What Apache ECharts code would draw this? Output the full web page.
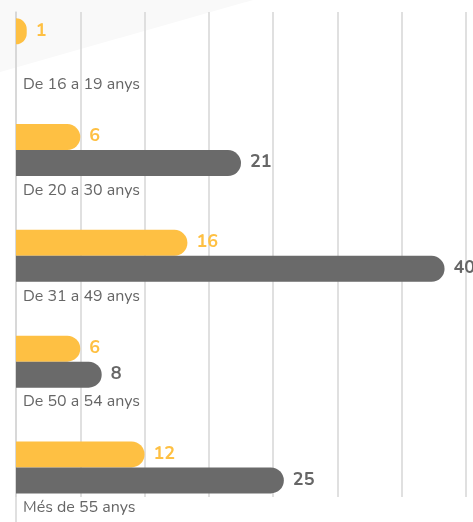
<!DOCTYPE html>
<html>
<head>
<meta charset="utf-8">
<script src="https://cdn.jsdelivr.net/npm/echarts@6/dist/echarts.min.js"></script>
<style>
html,body{margin:0;padding:0;background:#fff;}
#c{width:473px;height:522px;}
</style>
</head>
<body>
<div id="c"></div>
<script>
const categories = ['De 16 a 19 anys', 'De 20 a 30 anys', 'De 31 a 49 anys', 'De 50 a 54 anys', 'Més de 55 anys'];
const yellowValues = [1, 6, 16, 6, 12];
const greyValues = ['-', 21, 40, 8, 25];
const axisMin = 0, axisMax = 42, axisInterval = 6;

const FONT = 'Nunito, Lato, "Open Sans", sans-serif';
const L = 16, R = 7;
const chart = echarts.init(document.getElementById('c'), null, {renderer: 'canvas'});
chart.setOption({
  animation: false,
  backgroundColor: '#ffffff',
  graphic: [{
    type: 'polygon', z: -10, silent: true,
    shape: {points: [[0, 0], [253, 0], [0, 72]]},
    style: {fill: '#f9f9f9'}
  }],
  grid: [
    {left: L, right: R, top: 12, height: 485},
    {left: L, right: R, top: 12, bottom: 0},
    {left: L, right: R, top: 44.3, height: 425}
  ],
  xAxis: [
    {gridIndex: 0, type: 'value', min: axisMin, max: axisMax, interval: axisInterval,
     axisLabel: {show: false}, axisLine: {show: false}, axisTick: {show: false},
     splitLine: {show: true, lineStyle: {color: '#d6d6d6', width: 1.5}}},
    {gridIndex: 1, type: 'value', min: axisMin, max: axisMax, show: false},
    {gridIndex: 2, type: 'value', min: axisMin, max: axisMax, show: false}
  ],
  yAxis: [
    {gridIndex: 0, type: 'category', data: categories, show: false},
    {gridIndex: 1, type: 'category', data: categories, inverse: true,
     axisLine: {show: true, lineStyle: {color: '#d6d6d6', width: 1.5}},
     axisTick: {show: false}, axisLabel: {show: false}, splitLine: {show: false}},
    {gridIndex: 2, type: 'category', data: categories, inverse: true, boundaryGap: false,
     axisLine: {show: false}, axisTick: {show: false}, splitLine: {show: false},
     axisLabel: {show: true, inside: true, margin: 7, color: '#666666',
       fontFamily: FONT, fontSize: 16, verticalAlign: 'top', lineHeight: 27.3,
       formatter: v => '\n' + v}}
  ],
  series: [
    {type: 'bar', xAxisIndex: 2, yAxisIndex: 2, data: yellowValues,
     barWidth: 26, barGap: '0%',
     itemStyle: {color: '#FEC043', borderRadius: [0, 13, 13, 0]},
     label: {show: true, position: 'right', distance: 9, color: '#FEC043',
       fontFamily: FONT, fontWeight: 'bold', fontSize: 18}},
    {type: 'bar', xAxisIndex: 2, yAxisIndex: 2, data: greyValues,
     barWidth: 26, barGap: '0%',
     itemStyle: {color: '#6A6A6A', borderRadius: [0, 13, 13, 0]},
     label: {show: true, position: 'right', distance: 9, color: '#666666',
       fontFamily: FONT, fontWeight: 'bold', fontSize: 18}}
  ]
});
</script>
</body>
</html>
